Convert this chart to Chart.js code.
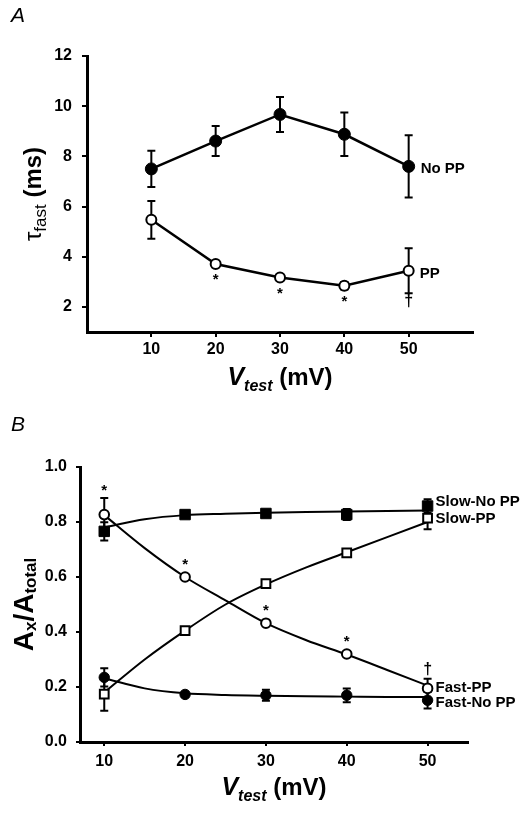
<!DOCTYPE html>
<html>
<head>
<meta charset="utf-8">
<script src="https://cdn.jsdelivr.net/npm/chart.js@4.4.1/dist/chart.umd.min.js"></script>
<style>
  body { margin: 0; background: #fff; width: 528px; height: 814px; position: relative; overflow: hidden; }
  canvas { position: absolute; left: 0; }
  #chartA { top: 0; }
  #chartB { top: 400px; }
</style>
</head>
<body>
<canvas id="chartA" width="528" height="400"></canvas>
<canvas id="chartB" width="528" height="414"></canvas>
<script>
// ---- Panel A: tau fast vs Vtest ----
const vTestA = [10, 20, 30, 40, 50];
const tauNoPP = [7.5, 8.61, 9.67, 8.88, 7.6];
const tauNoPPErr = [0.72, 0.6, 0.7, 0.87, 1.24];
const tauPP = [5.47, 3.71, 3.17, 2.84, 3.44];
const tauPPErr = [0.75, 0, 0, 0.15, 0.9];
const marksA = ['', '*', '*', '*', '†'];   // under PP
const xTicksA = [10, 20, 30, 40, 50];
const yTicksA = [2, 4, 6, 8, 10, 12];

// ---- Panel B: amplitude fractions vs Vtest ----
const vTestB = [10, 20, 30, 40, 50];
const slowNoPP = [0.766, 0.827, 0.831, 0.827, 0.858];
const slowNoPPErr = [0.033, 0.01, 0.01, 0.02, 0.025];
const slowPP = [0.174, 0.405, 0.576, 0.688, 0.814];
const slowPPErr = [0.06, 0, 0, 0, 0.04];
const fastPP = [0.827, 0.6, 0.432, 0.32, 0.195];
const fastPPErr = [0.06, 0, 0, 0, 0.035];
const fastNoPP = [0.235, 0.173, 0.17, 0.17, 0.152];
const fastNoPPErr = [0.033, 0.01, 0.02, 0.025, 0.03];
const marksB = ['*', '*', '*', '*', '†'];  // above Fast-PP
// fitted curves
const fitV = [10, 15, 20, 25, 30, 35, 40, 45, 50];
const fitSlowNoPP = [0.78, 0.81, 0.825, 0.83, 0.834, 0.836, 0.838, 0.84, 0.842];
const fitSlowPP = [0.18, 0.3, 0.405, 0.5, 0.573, 0.635, 0.69, 0.745, 0.8];
const fitFastPP = [0.825, 0.705, 0.6, 0.515, 0.432, 0.37, 0.318, 0.262, 0.205];
const fitFastNoPP = [0.232, 0.195, 0.177, 0.171, 0.168, 0.166, 0.165, 0.164, 0.164];
const xTicksB = [10, 20, 30, 40, 50];
const yTicksB = [0, 0.2, 0.4, 0.6, 0.8, 1.0];

const FONT = 'Arial, "Liberation Sans", Helvetica, sans-serif';
const pts = (xs, ys) => xs.map((x, i) => ({ x: x, y: ys[i] }));

// draws a run of text pieces (for subscripts), centred on x,y
const richText = (ctx, parts, x, y, angle) => {
    ctx.save();
    ctx.translate(x, y);
    ctx.rotate(angle || 0);
    let total = 0;
    parts.forEach(p => { ctx.font = p.font; p.w = ctx.measureText(p.t).width; total += p.w; });
    let cx = -total / 2;
    ctx.fillStyle = '#000';
    ctx.textAlign = 'left';
    ctx.textBaseline = 'alphabetic';
    parts.forEach(p => { ctx.font = p.font; ctx.fillText(p.t, cx, p.dy || 0); cx += p.w; });
    ctx.restore();
};

// error bars, drawn under the markers
const errBars = {
    id: 'errBars',
    beforeDatasetsDraw(chart, args, opts) {
        const { ctx, scales: { x, y } } = chart;
        ctx.save();
        ctx.strokeStyle = '#000';
        ctx.lineWidth = opts.width;
        opts.sets.forEach(s => {
            s.x.forEach((v, i) => {
                if (!s.err[i]) return;
                const px = x.getPixelForValue(v);
                const top = y.getPixelForValue(s.y[i] + s.err[i]);
                const bot = y.getPixelForValue(s.y[i] - s.err[i]);
                ctx.beginPath();
                ctx.moveTo(px, top); ctx.lineTo(px, bot);
                ctx.moveTo(px - opts.cap, top); ctx.lineTo(px + opts.cap, top);
                ctx.moveTo(px - opts.cap, bot); ctx.lineTo(px + opts.cap, bot);
                ctx.stroke();
            });
        });
        ctx.restore();
    }
};

// series labels, significance marks, axis titles, panel letter
const notes = {
    id: 'notes',
    afterDraw(chart, args, opts) {
        const { ctx, chartArea: a, scales: { x, y } } = chart;
        ctx.save();
        ctx.fillStyle = '#000';
        // labels at the right end of the series
        ctx.font = 'bold 15px ' + FONT;
        ctx.textAlign = 'left';
        ctx.textBaseline = 'middle';
        opts.labels.forEach(l => {
            ctx.fillText(l.text, x.getPixelForValue(l.x) + l.dx, y.getPixelForValue(l.y) + l.dy);
        });
        // * and † marks
        ctx.textAlign = 'center';
        opts.marks.forEach(m => {
            m.text.forEach((t, i) => {
                if (!t) return;
                const px = x.getPixelForValue(m.x[i]);
                const py = y.getPixelForValue(m.y[i]);
                const pe = y.getPixelForValue(m.y[i] - m.dir * m.err[i]);
                let edge;
                if (m.dir > 0) edge = Math.max(py + m.r, pe) + m.gap;
                else edge = Math.min(py - m.r, pe) - m.gap;
                if (t === '*') {
                    ctx.font = 'bold 15px ' + FONT;
                    ctx.textBaseline = 'alphabetic';
                    ctx.fillText(t, px, edge + 6);
                } else {
                    ctx.font = 'bold 16px ' + FONT;
                    ctx.textBaseline = 'middle';
                    ctx.fillText(t, px, edge);
                }
            });
        });
        ctx.restore();
        richText(ctx, opts.xTitle, (a.left + a.right) / 2, a.bottom + 53);
        richText(ctx, opts.yTitle, a.left - opts.yTitleGap, (a.top + a.bottom) / 2, -Math.PI / 2);
        ctx.save();
        ctx.font = 'italic 21px ' + FONT;
        ctx.textAlign = 'left';
        ctx.textBaseline = 'alphabetic';
        ctx.fillText(opts.letter, 11, opts.letterY);
        ctx.restore();
    }
};

const scaleOpts = (min, max, ticks, opts) => ({
    type: 'linear',
    min: min,
    max: max,
    afterBuildTicks: s => { s.ticks = ticks.map(v => ({ value: v })); },
    afterFit: opts.fit,
    border: { display: true, color: '#000', width: 3 },
    grid: { drawOnChartArea: false, drawTicks: true, tickLength: opts.tick || 5, color: '#000', lineWidth: 2 },
    ticks: {
        color: '#000',
        padding: opts.pad,
        font: { family: FONT, size: 16, weight: 'bold' },
        callback: opts.fmt || (v => v)
    }
});

const vTitle = [
    { t: 'V', font: 'italic bold 25px ' + FONT },
    { t: 'test', font: 'italic bold 16px ' + FONT, dy: 6 },
    { t: ' (mV)', font: 'bold 24px ' + FONT }
];

// ---------- Chart A ----------
new Chart(document.getElementById('chartA'), {
    type: 'scatter',
    data: {
        datasets: [
            {
                data: pts(vTestA, tauNoPP), showLine: true, borderColor: '#000', borderWidth: 2.5,
                pointRadius: 6, pointBackgroundColor: '#000', pointBorderColor: '#000', pointBorderWidth: 1
            },
            {
                data: pts(vTestA, tauPP), showLine: true, borderColor: '#000', borderWidth: 2.5,
                pointRadius: 5, pointBackgroundColor: '#fff', pointBorderColor: '#000', pointBorderWidth: 2
            }
        ]
    },
    options: {
        responsive: false,
        animation: false,
        devicePixelRatio: 1,
        layout: { padding: { left: 0, top: 56, right: 55, bottom: 0 } },
        scales: {
            x: scaleOpts(0, 60, xTicksA, { pad: 3, fit: s => { s.height = 68; } }),
            y: scaleOpts(1, 12, yTicksA, { pad: 10, fit: s => { s.width = 87; } })
        },
        plugins: {
            legend: { display: false },
            tooltip: { enabled: false },
            errBars: {
                width: 2, cap: 4,
                sets: [
                    { x: vTestA, y: tauNoPP, err: tauNoPPErr },
                    { x: vTestA, y: tauPP, err: tauPPErr }
                ]
            },
            notes: {
                labels: [
                    { text: 'No PP', x: 50, y: tauNoPP[4], dx: 12, dy: 2 },
                    { text: 'PP', x: 50, y: tauPP[4], dx: 11, dy: 3 }
                ],
                marks: [{ text: marksA, x: vTestA, y: tauPP, err: tauPPErr, dir: 1, r: 6, gap: 8 }],
                xTitle: vTitle,
                yTitle: [
                    { t: 'τ', font: '24px ' + FONT },
                    { t: 'fast', font: '17px ' + FONT, dy: 5 },
                    { t: ' (ms)', font: 'bold 24px ' + FONT }
                ],
                yTitleGap: 46,
                letter: 'A',
                letterY: 22
            }
        }
    },
    plugins: [errBars, notes]
});

// ---------- Chart B ----------
const fitLine = (ys) => ({
    data: pts(fitV, ys), showLine: true, cubicInterpolationMode: 'monotone',
    borderColor: '#000', borderWidth: 2, pointRadius: 0, order: 2
});
const markers = (ys, style, fill, r) => ({
    data: pts(vTestB, ys), showLine: false, pointStyle: style, pointRadius: r,
    pointBackgroundColor: fill, pointBorderColor: '#000', pointBorderWidth: fill === '#000' ? 1 : 2, order: 1
});

new Chart(document.getElementById('chartB'), {
    type: 'scatter',
    data: {
        datasets: [
            fitLine(fitSlowNoPP),
            fitLine(fitSlowPP),
            fitLine(fitFastPP),
            fitLine(fitFastNoPP),
            markers(slowNoPP, 'rect', '#000', 7.4),
            markers(slowPP, 'rect', '#fff', 6.2),
            markers(fastPP, 'circle', '#fff', 4.8),
            markers(fastNoPP, 'circle', '#000', 5.2)
        ]
    },
    options: {
        responsive: false,
        animation: false,
        devicePixelRatio: 1,
        layout: { padding: { left: 0, top: 67, right: 60, bottom: 0 } },
        scales: {
            x: scaleOpts(7, 55, xTicksB, { pad: 6, tick: 4, fit: s => { s.height = 72; } }),
            y: scaleOpts(0, 1, yTicksB, { pad: 9, tick: 4, fit: s => { s.width = 80; }, fmt: v => v.toFixed(1) })
        },
        plugins: {
            legend: { display: false },
            tooltip: { enabled: false },
            errBars: {
                width: 2, cap: 4,
                sets: [
                    { x: vTestB, y: slowNoPP, err: slowNoPPErr },
                    { x: vTestB, y: slowPP, err: slowPPErr },
                    { x: vTestB, y: fastPP, err: fastPPErr },
                    { x: vTestB, y: fastNoPP, err: fastNoPPErr }
                ]
            },
            notes: {
                labels: [
                    { text: 'Slow-No PP', x: 50, y: slowNoPP[4], dx: 8, dy: -4 },
                    { text: 'Slow-PP', x: 50, y: slowPP[4], dx: 8, dy: 1 },
                    { text: 'Fast-PP', x: 50, y: fastPP[4], dx: 8, dy: -1 },
                    { text: 'Fast-No PP', x: 50, y: fastNoPP[4], dx: 8, dy: 3 }
                ],
                marks: [{ text: marksB, x: vTestB, y: fastPP, err: fastPPErr, dir: -1, r: 5.5, gap: 9 }],
                xTitle: vTitle,
                yTitle: [
                    { t: 'A', font: 'bold 28px ' + FONT },
                    { t: 'x', font: 'bold 17px ' + FONT, dy: 3 },
                    { t: '/A', font: 'bold 28px ' + FONT },
                    { t: 'total', font: 'bold 17px ' + FONT, dy: 3 }
                ],
                yTitleGap: 47,
                letter: 'B',
                letterY: 31
            }
        }
    },
    plugins: [errBars, notes]
});
</script>
</body>
</html>
